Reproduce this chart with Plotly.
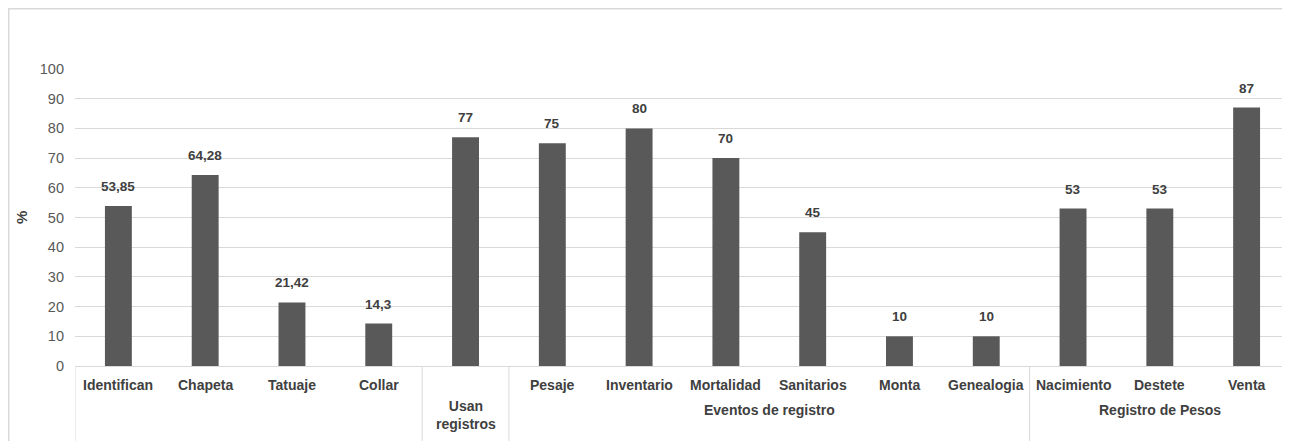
import plotly.graph_objects as go

categories = ["Identifican", "Chapeta", "Tatuaje", "Collar", "", "Pesaje", "Inventario",
              "Mortalidad", "Sanitarios", "Monta", "Genealogia", "Nacimiento", "Destete", "Venta"]
values = [53.85, 64.28, 21.42, 14.3, 77, 75, 80, 70, 45, 10, 10, 53, 53, 87]
groups = [("", 0, 3), ("Usan<br>registros", 4, 4), ("Eventos de registro", 5, 10), ("Registro de Pesos", 11, 13)]
y_ticks = list(range(0, 101, 10))

x_idx = list(range(len(values)))
labels = [f"{v:g}".replace(".", ",") for v in values]

# page offset from default body margin
OFF = 8
PL, PR, PT, PB = 75, 1290, 69, 366  # plot area in page pixels
W, H = 1290 - OFF, 441 - OFF
L, T = PL - OFF, PT - OFF
B = H - (PB - OFF)
R = W - (PR - OFF)
pw, ph = PR - PL, PB - PT

def py(pix):
    return (PB - pix) / ph

def px(pix):
    return (pix - PL) / pw

FONT = "Liberation Sans"
fig = go.Figure()
fig.add_trace(go.Bar(
    x=x_idx, y=values, width=0.31,
    marker=dict(color="#595959", line=dict(width=0)),
))

annotations = []
# data labels
for i, (v, t) in enumerate(zip(values, labels)):
    annotations.append(dict(x=i, y=v, xref="x", yref="y", text=f"<b>{t}</b>", showarrow=False,
                            yanchor="bottom", yshift=10,
                            font=dict(family=FONT, size=13.5, color="#404040")))

for i, c in enumerate(categories):
    if c:
        annotations.append(dict(x=i, y=py(385), xref="x", yref="paper", text=f"<b>{c}</b>",
                                showarrow=False, font=dict(family=FONT, size=14, color="#404040"),
                                xanchor="center", yanchor="middle"))

shapes = []
for name, a, b in groups:
    if name:
        center = (a + b) / 2
        yy = py(415) if "<br>" in name else py(410)
        annotations.append(dict(x=center, y=yy, xref="x", yref="paper", text=f"<b>{name}</b>",
                                showarrow=False, font=dict(family=FONT, size=14, color="#404040"),
                                xanchor="center", yanchor="middle"))
    shapes.append(dict(type="line", xref="x", yref="paper", x0=a - 0.5, x1=a - 0.5, y0=0, y1=py(441),
                       line=dict(color="#d9d9d9", width=1)))

annotations.append(dict(x=px(21), y=py(218), xref="paper", yref="paper", text="<b>%</b>", textangle=-90,
                        xanchor="center", yanchor="middle",
                        showarrow=False, font=dict(family=FONT, size=15, color="#404040")))

# outer chart border
shapes.append(dict(type="rect", xref="paper", yref="paper", x0=px(8.7), x1=px(1300), y0=py(460), y1=py(8.7),
                   line=dict(color="#d9d9d9", width=1.5), fillcolor="rgba(0,0,0,0)", layer="below"))

fig.update_layout(
    width=W, height=H, margin=dict(l=L, r=R, t=T, b=B),
    paper_bgcolor="white", plot_bgcolor="white", showlegend=False,
    xaxis=dict(range=[-0.5, len(values) - 0.5], showticklabels=False, showgrid=False, zeroline=False,
               showline=True, linecolor="#d9d9d9", linewidth=1, fixedrange=True),
    yaxis=dict(range=[0, 100], tickvals=y_ticks, showgrid=True, gridcolor="#d9d9d9", gridwidth=1,
               zeroline=False, showline=False, ticks="", ticklabelstandoff=10,
               tickfont=dict(family=FONT, size=14.5, color="#595959")),
    annotations=annotations, shapes=shapes,
    bargap=0.69,
)

fig.write_html("out.html", config={"displayModeBar": False})
